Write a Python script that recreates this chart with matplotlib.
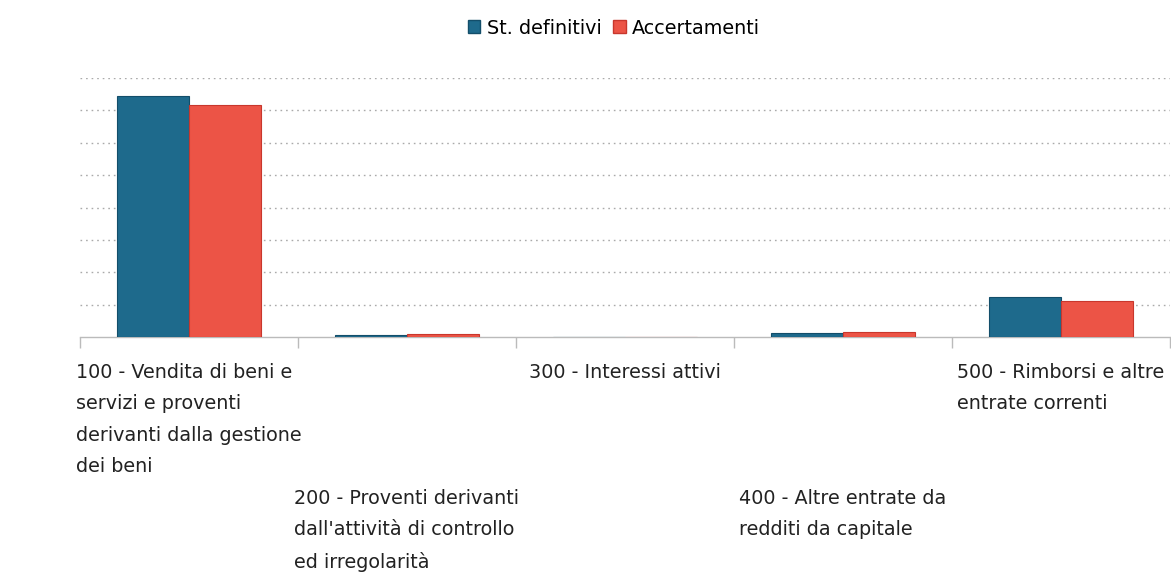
import matplotlib
matplotlib.use("Agg")
import matplotlib.pyplot as plt
from matplotlib.patches import Patch
import matplotlib.transforms as mtransforms
import numpy as np

categories = [
    "100 - Vendita di beni e\nservizi e proventi\nderivanti dalla gestione\ndei beni",
    "200 - Proventi derivanti\ndall'attività di controllo\ned irregolarità",
    "300 - Interessi attivi",
    "400 - Altre entrate da\nredditi da capitale",
    "500 - Rimborsi e altre\nentrate correnti",
]
series_names = ["St. definitivi", "Accertamenti"]
st_definitivi = [7.44, 0.06, 0.0, 0.12, 1.23]
accertamenti = [7.16, 0.10, 0.0, 0.14, 1.11]
colors = ["#1E6A8C", "#EC5446"]
edge_colors = ["#134E6A", "#C8372D"]

plt.rcParams['font.family'] = ['DejaVu Sans']

fig = plt.figure(figsize=(11.71, 5.75), dpi=100)
ax = fig.add_axes([80/1171, 1-337/575, 1090/1171, (337-78)/575])

x = np.arange(len(categories))
w = 0.33
ax.bar(x - w/2, st_definitivi, width=w, color=colors[0], edgecolor=edge_colors[0], linewidth=0.8, zorder=3)
ax.bar(x + w/2, accertamenti, width=w, color=colors[1], edgecolor=edge_colors[1], linewidth=0.8, zorder=3)

ax.set_xlim(-0.5, len(categories) - 0.5)
ax.set_ylim(0, 8)
ax.set_yticks(np.arange(1, 9))
ax.yaxis.grid(True, linestyle=(0, (1.2, 2.8)), color="#AAAAAA", linewidth=1.0, zorder=0)
ax.tick_params(axis='y', left=False, labelleft=False)
for s in ["top", "right", "left"]:
    ax.spines[s].set_visible(False)
ax.spines["bottom"].set_color("#BBBBBB")
ax.spines["bottom"].set_linewidth(1.0)
ax.set_xticks([])
ax.set_xticks(np.arange(-0.5, len(categories)), minor=True)
ax.tick_params(axis='x', which='minor', length=8, color="#BBBBBB", width=1.0, labelbottom=False)

# staggered category labels
trans = mtransforms.blended_transform_factory(ax.transData, fig.transFigure)
for i, lab in enumerate(categories):
    ytop = 1 - (363 if i % 2 == 0 else 489) / 575
    ax.text(i, ytop, lab, transform=trans, ha='center', va='top',
            multialignment='left', fontsize=13.8, color="#222222",
            linespacing=1.82)

handles = [Patch(facecolor=colors[0], edgecolor=edge_colors[0]),
           Patch(facecolor=colors[1], edgecolor=edge_colors[1])]
fig.legend(handles, series_names, loc='center', bbox_to_anchor=(614/1171, 1-28/575),
           ncol=2, frameon=False, fontsize=13.8, handlelength=0.65, handleheight=0.65,
           handletextpad=0.35, columnspacing=0.6)

fig.savefig("out.png", dpi=100)
